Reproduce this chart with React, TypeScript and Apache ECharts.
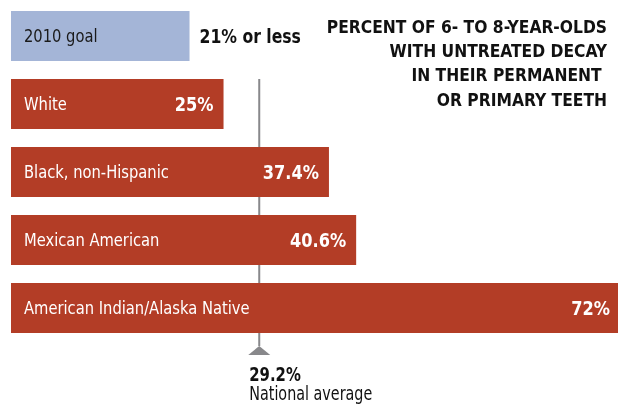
import React, { useEffect, useRef } from "react";
import * as echarts from "echarts";

const categories = [
  "2010 goal",
  "White",
  "Black, non-Hispanic",
  "Mexican American",
  "American Indian/Alaska Native",
];
const values = [21, 25, 37.4, 40.6, 72];
const valueLabels = ["21% or less", "25%", "37.4%", "40.6%", "72%"];
const nationalAverage = 29.2;
const nationalAverageLabel = "29.2%";
const nationalAverageText = "National average";
const titleLines = [
  "PERCENT OF 6- TO 8-YEAR-OLDS",
  "WITH UNTREATED DECAY",
  "IN THEIR PERMANENT ",
  "OR PRIMARY TEETH",
];
const axisMax = 71.4;

const FONT = "'DejaVu Sans Condensed', 'DejaVu Sans', sans-serif";
const RED = "#b33d26";
const BLUE = "#a4b5d7";
const GRAY = "#88888b";
const DARK = "#111111";

export default function App() {
  const ref = useRef<HTMLDivElement>(null);
  useEffect(() => {
    if (!ref.current) return;
    const chart = echarts.init(ref.current, undefined, { renderer: "svg" });
    chart.setOption({
      animation: false,
      grid: { left: 11, right: 0, top: 2, height: 340 },
      xAxis: { type: "value", min: 0, max: axisMax, show: false },
      yAxis: { type: "category", data: categories, inverse: true, show: false },
      series: [
        {
          type: "bar",
          barWidth: 50,
          z: 3,
          clip: true,
          data: values.map((v, i) => ({
            value: v,
            itemStyle: { color: i === 0 ? BLUE : RED },
          })),
        },
      ],
    });

    const px = (v: number) => chart.convertToPixel({ xAxisIndex: 0 }, v) as number;
    const py = (c: string) => chart.convertToPixel({ yAxisIndex: 0 }, c) as number;
    const x0 = px(0);
    const x = px(nationalAverage);
    const yTop = py(categories[1]) - 25;
    const yBottom = py(categories[categories.length - 1]) + 25;
    const apex = yBottom + 13;

    const barTexts: any[] = [];
    categories.forEach((c, i) => {
      const yc = py(c);
      const xe = px(values[i]);
      barTexts.push({
        type: "text",
        z: 100,
        x: x0 + 13,
        y: yc,
        scaleX: 0.91,
        style: {
          text: c,
          font: `18px ${FONT}`,
          fill: i === 0 ? "#1a1a1a" : "#ffffff",
          align: "left",
          verticalAlign: "middle",
        },
      });
      barTexts.push(
        i === 0
          ? {
              type: "text",
              z: 100,
              x: xe + 10,
              y: yc,
              scaleX: 0.87,
              style: {
                text: valueLabels[i],
                font: `bold 20px ${FONT}`,
                fill: DARK,
                align: "left",
                verticalAlign: "middle",
              },
            }
          : {
              type: "text",
              z: 100,
              x: Math.min(xe, 620) - 10,
              y: yc,
              scaleX: 0.9,
              style: {
                text: valueLabels[i],
                font: `bold 20px ${FONT}`,
                fill: "#ffffff",
                align: "right",
                verticalAlign: "middle",
              },
            }
      );
    });

    chart.setOption({
      graphic: [
        {
          type: "line",
          z: 1,
          shape: { x1: x, y1: yTop, x2: x, y2: apex },
          style: { stroke: GRAY, lineWidth: 2 },
        },
        {
          type: "polygon",
          z: 1,
          shape: { points: [[x, apex], [x - 11, apex + 9], [x + 11, apex + 9]] },
          style: { fill: GRAY },
        },
        {
          type: "text",
          z: 100,
          x: x - 10,
          y: apex + 28.5,
          scaleX: 0.87,
          style: {
            text: nationalAverageLabel,
            font: `bold 19px ${FONT}`,
            fill: DARK,
            verticalAlign: "middle",
          },
        },
        {
          type: "text",
          z: 100,
          x: x - 10,
          y: apex + 48,
          scaleX: 0.84,
          style: {
            text: nationalAverageText,
            font: `19px ${FONT}`,
            fill: DARK,
            verticalAlign: "middle",
          },
        },
        {
          type: "text",
          z: 100,
          x: 607,
          y: 14.5,
          scaleX: 0.96,
          style: {
            text: titleLines.join("\n"),
            font: `bold 18px ${FONT}`,
            lineHeight: 24.3,
            align: "right",
            fill: DARK,
          },
        },
        ...barTexts,
      ],
    });
    return () => chart.dispose();
  }, []);
  return (
    <div
      ref={ref}
      style={{ position: "fixed", left: 0, top: 0, width: 618, height: 406 }}
    />
  );
}
